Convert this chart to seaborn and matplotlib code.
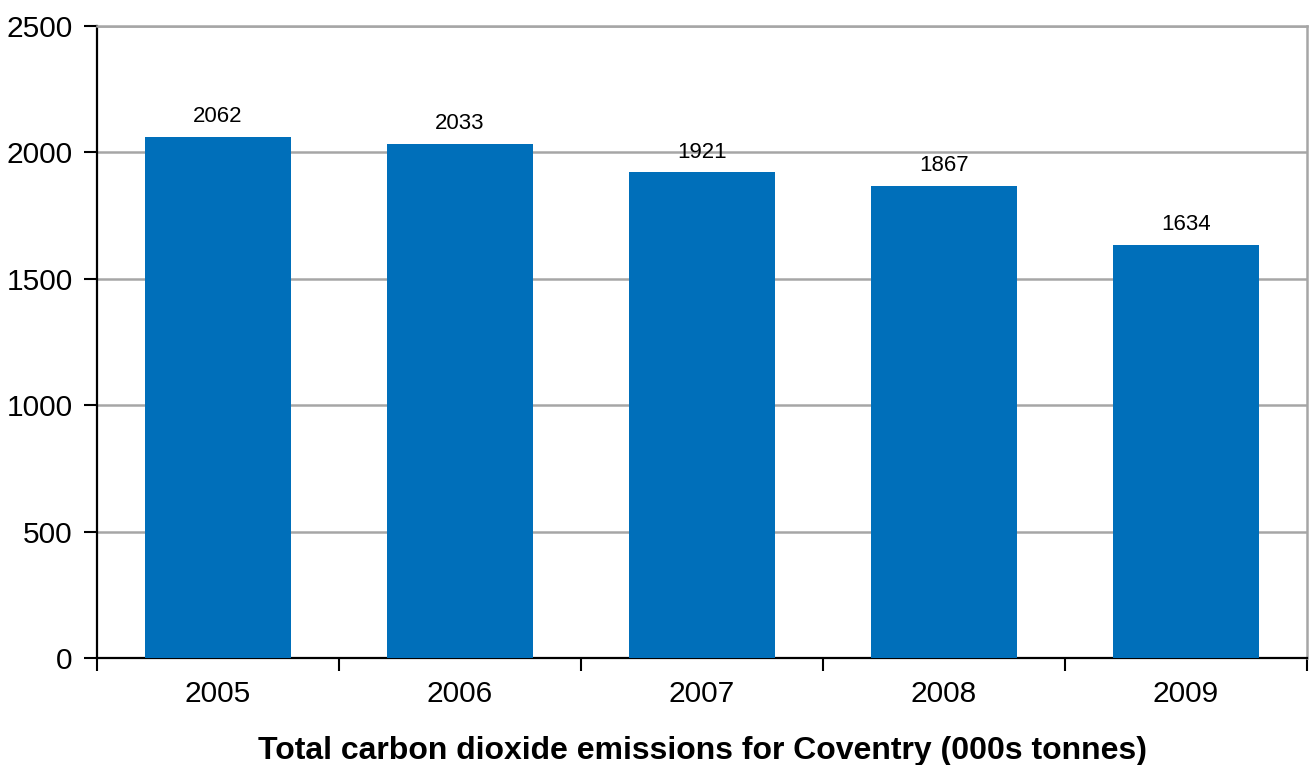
import numpy as np
import pandas as pd
import matplotlib
matplotlib.use("Agg")
import matplotlib.pyplot as plt
import seaborn as sns

years = ["2005", "2006", "2007", "2008", "2009"]
emissions = [2062, 2033, 1921, 1867, 1634]
y_ticks = [0, 500, 1000, 1500, 2000, 2500]

df = pd.DataFrame({"year": years, "emissions": emissions})

sns.set_style("white")
plt.rcParams["font.family"] = ["Liberation Sans", "DejaVu Sans"]
plt.rcParams["text.color"] = "black"
plt.rcParams["axes.labelcolor"] = "black"
plt.rcParams["xtick.color"] = "black"
plt.rcParams["ytick.color"] = "black"

fig = plt.figure(figsize=(13.11, 7.65), dpi=100)
ax = fig.add_axes([97 / 1311, 107 / 765, 1210 / 1311, 632 / 765])

sns.barplot(data=df, x="year", y="emissions", color="#006fba", saturation=1,
            width=0.6, linewidth=0, edgecolor="none", ax=ax, zorder=3)

ax.set_xlim(-0.5, len(years) - 0.5)
ax.set_ylim(0, 2500)
ax.set_yticks(y_ticks)
ax.yaxis.grid(True, color="#a6a6a6", linewidth=1.8, zorder=0)
ax.set_axisbelow(True)

# bar value labels
for i, v in enumerate(emissions):
    ax.annotate(str(v), (i, v), xytext=(0, 7), textcoords="offset points",
                ha="center", va="bottom", fontsize=16, color="black", zorder=5)

# category separator ticks
ax.set_xticks(np.arange(-0.5, len(years)), minor=True)
ax.tick_params(axis="x", which="minor", bottom=True, length=9, width=1.5,
               color="black", direction="out")
ax.tick_params(axis="x", which="major", bottom=True, length=0, pad=16,
               labelsize=21.5, labelcolor="black")
ax.tick_params(axis="y", which="major", length=9.5, width=1.5, color="black",
               direction="out", pad=8, labelsize=21.5, left=True, labelcolor="black")

for side in ["left", "bottom"]:
    ax.spines[side].set_color("black")
    ax.spines[side].set_linewidth(1.6)
for side in ["top", "right"]:
    ax.spines[side].set_visible(True)
    ax.spines[side].set_color("#a6a6a6")
    ax.spines[side].set_linewidth(1.8)

ax.set_ylabel("")
ax.set_xlabel("Total carbon dioxide emissions for Coventry (000s tonnes)",
              fontsize=23, fontweight="bold", labelpad=20, color="black")

fig.savefig("out.png", dpi=100)
